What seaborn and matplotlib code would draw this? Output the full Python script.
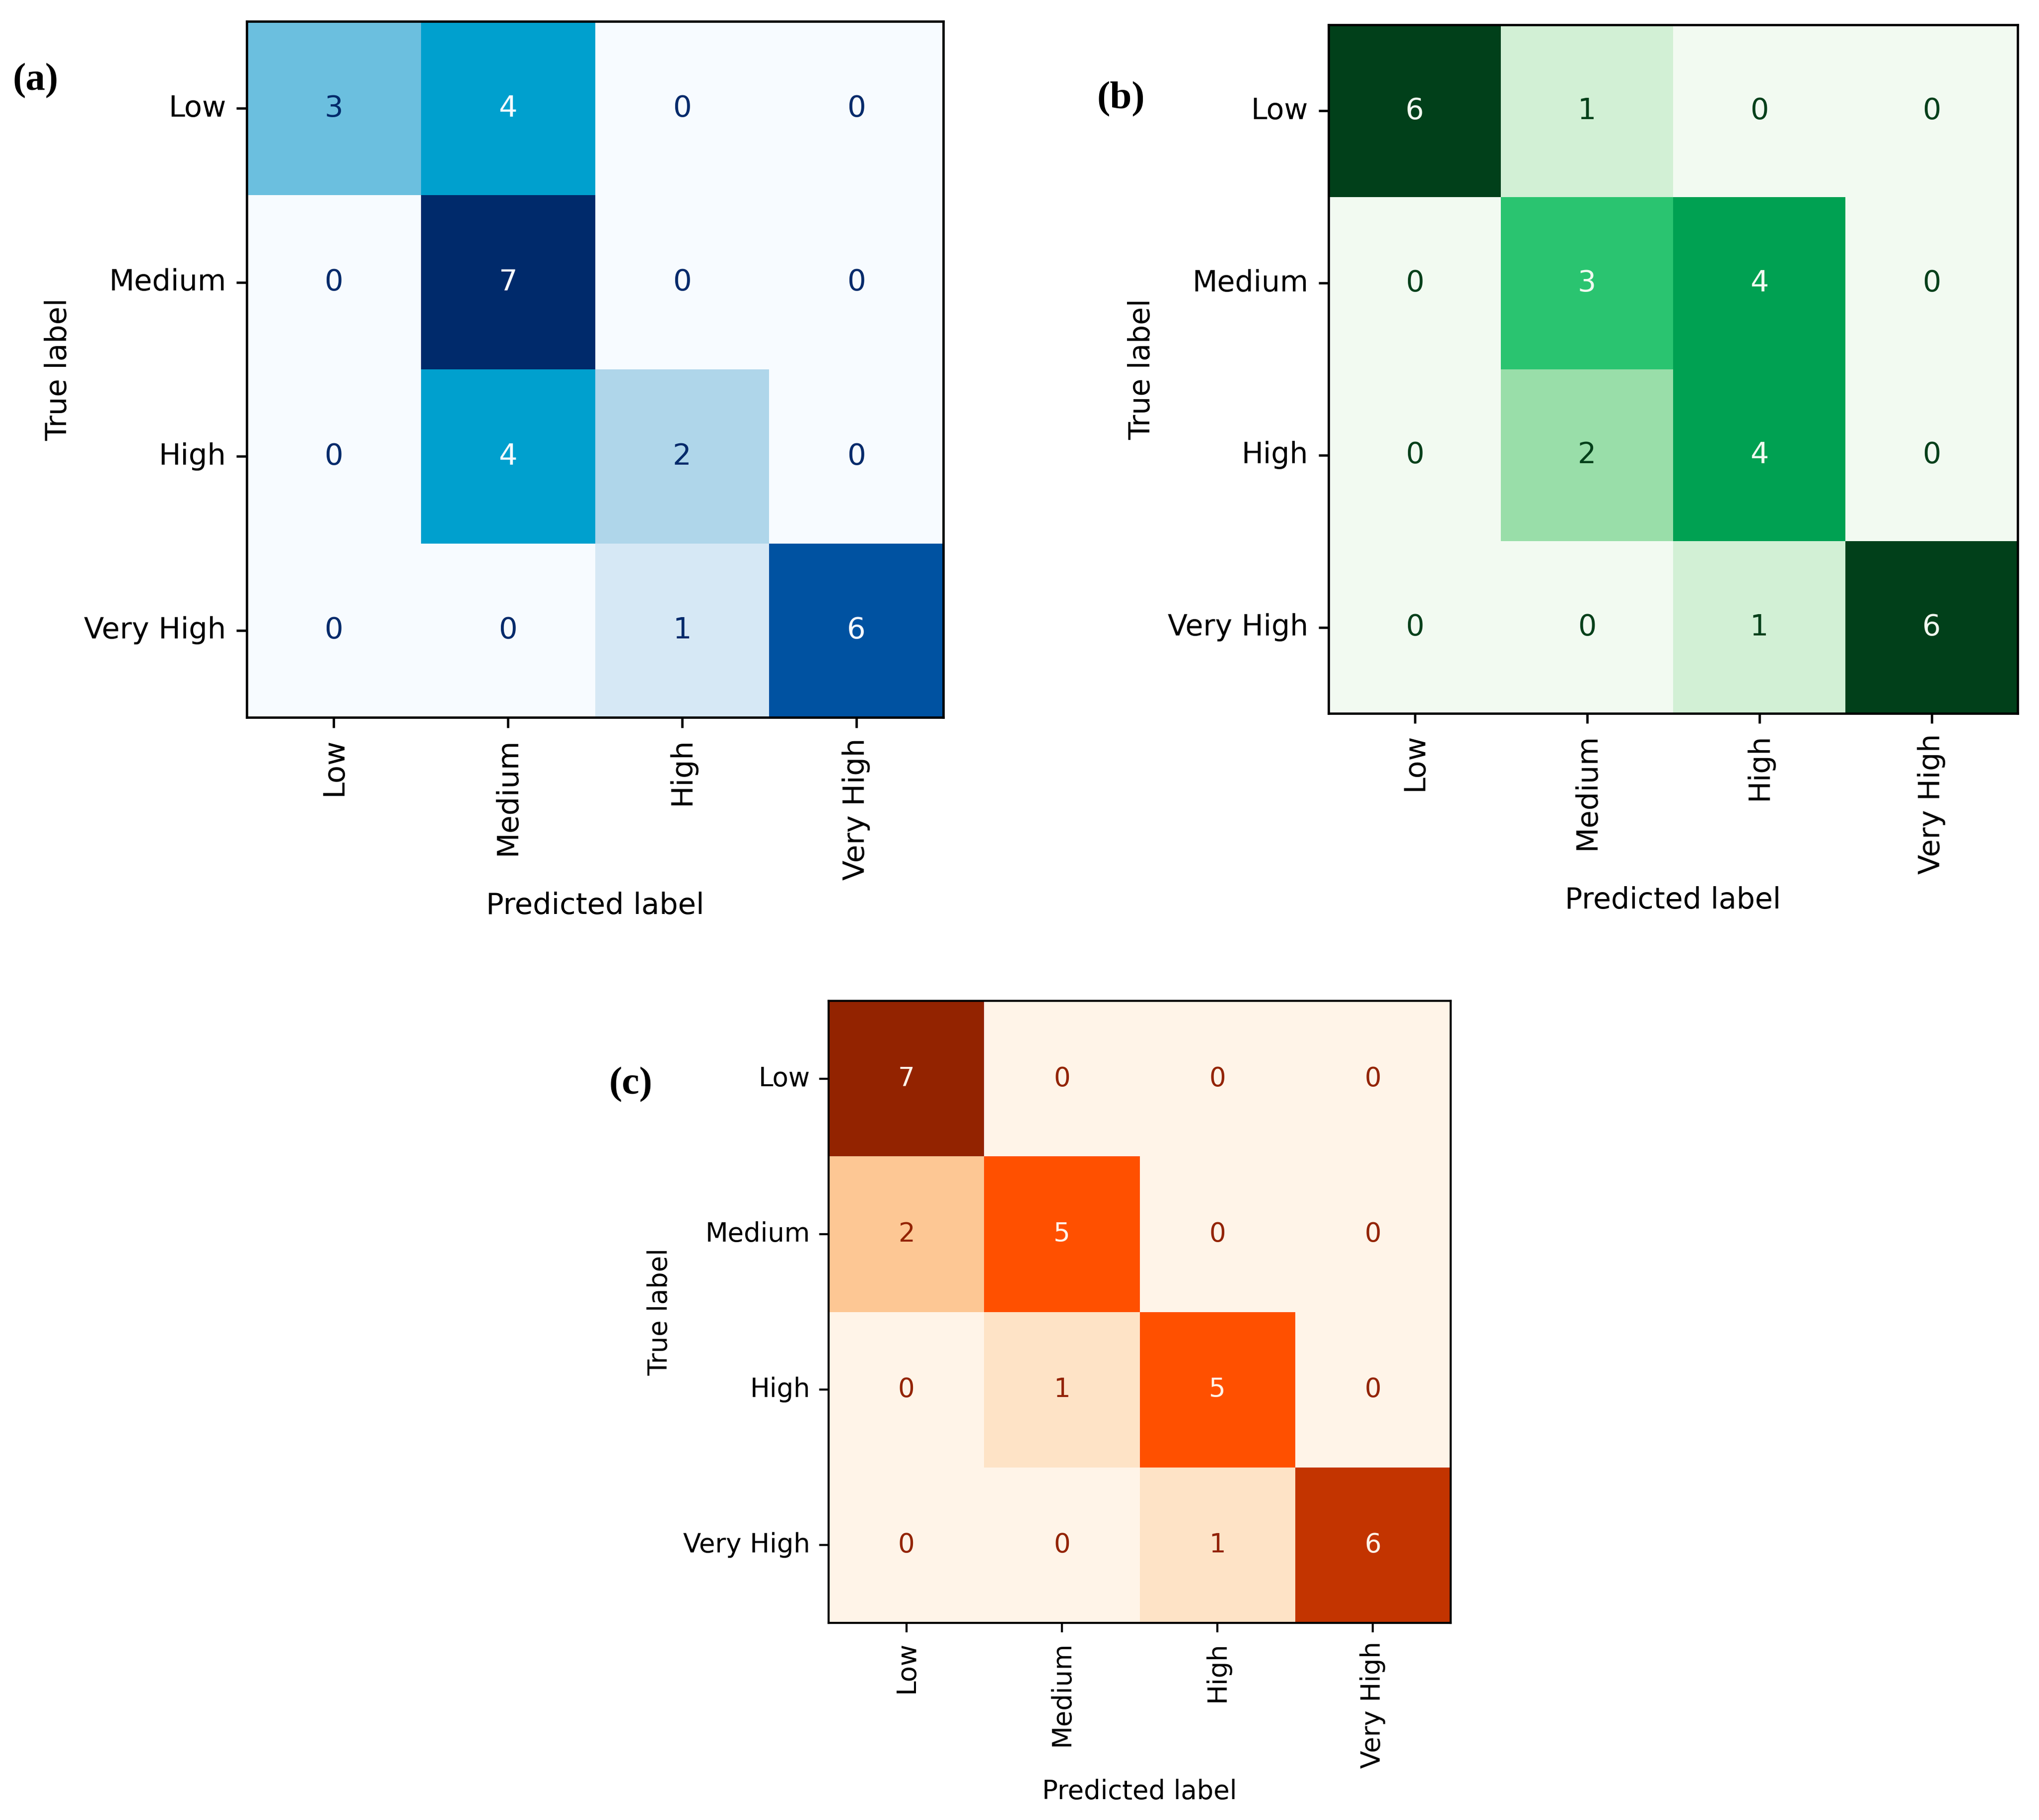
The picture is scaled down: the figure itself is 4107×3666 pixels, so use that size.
import numpy as np
import pandas as pd
import matplotlib
matplotlib.use("Agg")
import matplotlib.pyplot as plt
from matplotlib.colors import LinearSegmentedColormap
import seaborn as sns

# ---- data ----
classes = ["Low", "Medium", "High", "Very High"]

cm_a = [[3, 4, 0, 0],
        [0, 7, 0, 0],
        [0, 4, 2, 0],
        [0, 0, 1, 6]]

cm_b = [[6, 1, 0, 0],
        [0, 3, 4, 0],
        [0, 2, 4, 0],
        [0, 0, 1, 6]]

cm_c = [[7, 0, 0, 0],
        [2, 5, 0, 0],
        [0, 1, 5, 0],
        [0, 0, 1, 6]]

panel_labels = ["(a)", "(b)", "(c)"]

# ---- colour maps (anchored to the observed cell colours) ----
def make_cmap(name, anchors, vmax):
    return LinearSegmentedColormap.from_list(
        name, [(v / vmax, c) for v, c in anchors])

blues = make_cmap("blues_r", [(0, "#f7fbff"), (1, "#d6e8f5"), (2, "#afd6ea"),
                               (3, "#6abfdf"), (4, "#00a0ce"), (6, "#0052a2"),
                               (7, "#002a6b")], 7)
greens = make_cmap("greens_r", [(0, "#f2faf1"), (1, "#d2f0d5"), (2, "#99dea9"),
                                 (3, "#2ac470"), (4, "#00a152"), (6, "#01401a")], 6)
oranges = make_cmap("oranges_r", [(0, "#fff4e8"), (1, "#fee3c6"), (2, "#fdc794"),
                                   (5, "#ff5000"), (6, "#c43400"), (7, "#932300")], 7)

W, H, DPI = 4107, 3666, 300
fig = plt.figure(figsize=(W / DPI, H / DPI), dpi=DPI)
plt.rcParams['font.family'] = ['DejaVu Sans']

# axes rectangles in figure fractions (from pixel measurements)
rects = [
    (497 / W, 1 - 1445 / H, 1403 / W, 1402 / H),
    (2676 / W, 1 - 1437 / H, 1388 / W, 1387 / H),
    (1669 / W, 1 - 3269 / H, 1253 / W, 1253 / H),
]
fsizes = [14.2, 14.05, 12.7]
cmaps = [blues, greens, oranges]
mats = [cm_a, cm_b, cm_c]
label_pos = [(72 / W, 1 - 163 / H), (2258 / W, 1 - 200 / H), (1270 / W, 1 - 2185 / H)]

for rect, fs, cmap, m, lab, lp in zip(rects, fsizes, cmaps, mats, panel_labels, label_pos):
    ax = fig.add_axes(rect)
    df = pd.DataFrame(m, index=classes, columns=classes)
    vmax = df.values.max()
    vmin = df.values.min()
    sns.heatmap(df, ax=ax, cmap=cmap, vmin=0, vmax=vmax, cbar=False,
                annot=True, fmt="d", annot_kws={"fontsize": fs})
    thresh = (vmax + vmin) / 2.0
    for t in ax.texts:
        v = int(t.get_text())
        t.set_color(cmap(1.0) if v < thresh else cmap(0.0))
    scale = fs / 10.0
    for sp in ax.spines.values():
        sp.set_visible(True)
        sp.set_color("black")
        sp.set_linewidth(0.8 * scale)
    ax.tick_params(axis="both", which="major", length=3.5 * scale,
                   width=0.8 * scale, pad=3.5 * scale, labelsize=fs,
                   colors="black", left=True, bottom=True)
    plt.setp(ax.get_yticklabels(), rotation=0, va="center")
    plt.setp(ax.get_xticklabels(), rotation=90, ha="center")
    ax.set_xlabel("Predicted label", fontsize=fs, labelpad=4 * scale)
    ax.set_ylabel("True label", fontsize=fs, labelpad=4 * scale)
    fig.text(lp[0], lp[1], lab, ha="center", va="center", fontsize=19,
             fontweight="bold", family=["Liberation Serif", "DejaVu Serif"])

fig.savefig("out.png", dpi=DPI, facecolor="white")
